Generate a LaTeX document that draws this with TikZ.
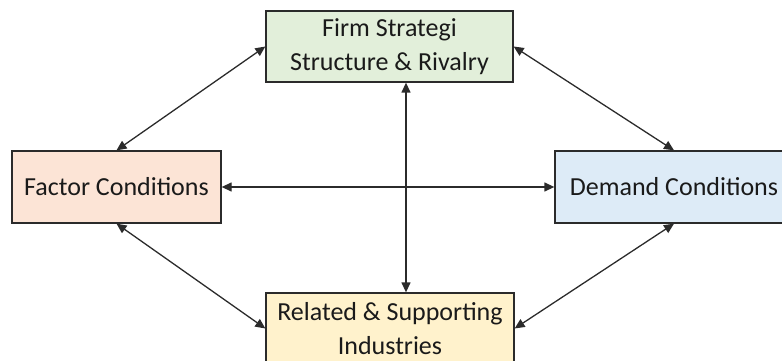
\documentclass[tikz,border=0pt]{standalone}
\usepackage{fontspec}
\setmainfont{Carlito}
\usepackage{xcolor}
\usepackage{tikz}
\usetikzlibrary{calc,arrows.meta}
\definecolor{edge}{HTML}{2B2B2B}
\definecolor{ink}{HTML}{1A1A1A}
\definecolor{stratfill}{HTML}{E2EFDA}
\definecolor{factfill}{HTML}{FCE4D6}
\definecolor{demfill}{HTML}{DDEBF7}
\definecolor{relfill}{HTML}{FFF2CC}
\tikzset{
  box/.style={draw=edge, line width=1.3pt, text=ink, align=center, inner sep=0pt,
    font=\fontsize{26}{34}\selectfont},
  link/.style={draw=edge, line width=1.3pt, {Triangle[length=10pt,width=9pt]}-{Triangle[length=10pt,width=9pt]}},
}
\begin{document}
\begin{tikzpicture}[x=1pt,y=-1pt]
  \useasboundingbox (0,0) rectangle (782,361);
  \node[box, fill=stratfill, minimum width=247pt, minimum height=71pt] (strat) at (389.5,46.5)
    {Firm Strategi\\Structure \& Rivalry};
  \node[box, fill=factfill, minimum width=209pt, minimum height=72pt] (factor) at (116.5,187)
    {Factor Conditions};
  \node[box, fill=demfill, minimum width=238pt, minimum height=72pt] (demand) at (674,187)
    {Demand Conditions};
  \node[box, fill=relfill, minimum width=248pt, minimum height=71pt] (related) at (390,328.5)
    {Related \& Supporting\\Industries};
  \coordinate (cross) at (406,187);

  \draw[link] (factor.north) -- (strat.west);
  \draw[link] (factor.south) -- (related.west);
  \draw[link] (strat.east) -- (demand.north);
  \draw[link] (demand.south) -- (related.east);
  \draw[link] (factor.east) -- (demand.west);
  \draw[link] (strat.south -| cross) -- (related.north -| cross);
\end{tikzpicture}
\end{document}
